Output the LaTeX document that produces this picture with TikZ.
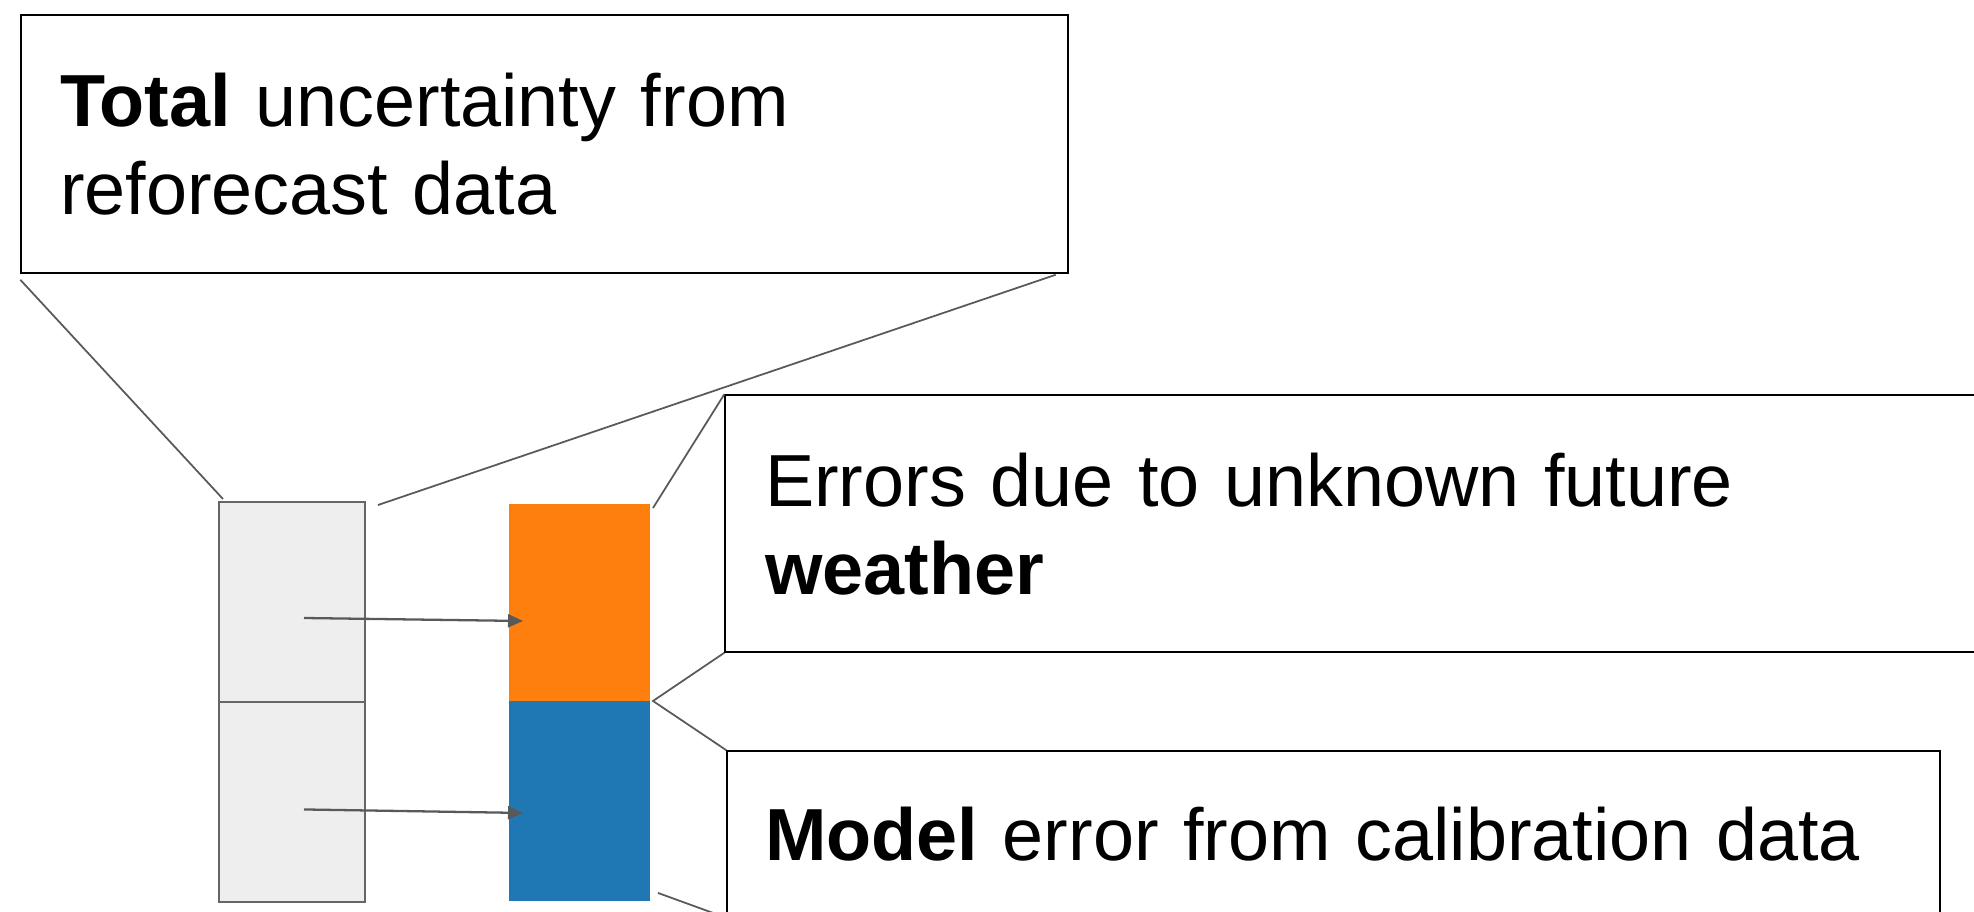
\documentclass[tikz,border=0pt]{standalone}
\usepackage{fontspec}
\setmainfont{Liberation Sans}
\usepackage{xcolor}
\usetikzlibrary{arrows.meta, positioning}
\definecolor{barorange}{HTML}{FF7F0E}
\definecolor{barblue}{HTML}{1F77B4}
\definecolor{barfill}{HTML}{EEEEEE}
\definecolor{barline}{HTML}{666666}
\definecolor{leadgray}{HTML}{595959}
\newcommand{\calloutTop}{\rule{0pt}{36pt}}
\newcommand{\calloutBot}{\rule[-5.4pt]{0pt}{5.4pt}}
\tikzset{
    callout/.style = {rectangle, draw=black, line width=0.9pt, align=left, inner ysep=0pt, font=\fontsize{42}{50}\selectfont},
    graybar/.style = {rectangle, draw=barline, fill=barfill, line width=1.1pt, minimum width=2.92cm, minimum height=4cm, inner sep=0pt, outer sep=0pt},
    colorbar/.style = {rectangle, minimum width=2.82cm, minimum height=4cm, inner sep=0pt, outer sep=0pt},
    arrow/.style = {line width=1.3pt, draw=leadgray, -{Triangle[length=0.3cm, width=0.26cm]}},
    leader/.style = {line width=1pt, draw=leadgray}
}

\begin{document}
\begin{tikzpicture}[x=0.02cm, y=-0.02cm]
\useasboundingbox (0,0) rectangle (1974,912);
\clip (0,0) rectangle (1974,912);

\node (graytop) [graybar] at (292,602) {};
\node (graybot) [graybar, below=0pt of graytop] {};
\node (orange) [colorbar, fill=barorange, minimum height=3.94cm] at (579.5,602.5) {};
\node (blue) [colorbar, fill=barblue, below=0pt of orange] {};

\node (total) [callout, text width=19.38cm, inner xsep=0.78cm, minimum height=5.16cm] at (544.5,144) {\calloutTop\textbf{Total} uncertainty from\\reforecast data\calloutBot};
\node (weather) [callout, text width=24.4cm, inner xsep=0.8cm, minimum height=5.14cm] at (1375,523.5) {\calloutTop Errors due to unknown future\\\textbf{weather}\calloutBot};
\node (model) [callout, text width=22.74cm, inner xsep=0.76cm, minimum height=3.32cm] at (1333.5,834) {\calloutTop\textbf{Model} error from calibration data\calloutBot};

\draw [arrow] ([shift={(0.24cm,-0.32cm)}]graytop.center) -- ([shift={(0.28cm,-0.37cm)}]orange.west);
\draw [arrow] ([shift={(0.24cm,-0.15cm)}]graybot.center) -- ([shift={(0.28cm,-0.24cm)}]blue.west);

\draw [leader] ([yshift=-0.12cm]total.south west) -- ([shift={(0.08cm,0.06cm)}]graytop.north west);
\draw [leader] ([shift={(-0.26cm,-0.02cm)}]total.south east) -- ([shift={(0.26cm,-0.06cm)}]graytop.north east);
\draw [leader] (weather.north west) -- ([shift={(0.06cm,-0.08cm)}]orange.north east);
\draw [leader] (weather.south west) -- ([xshift=0.06cm]orange.south east) -- (model.north west);
\draw [leader] ([shift={(0.16cm,0.16cm)}]blue.south east) -- (model.south west);
\end{tikzpicture}
\end{document}
